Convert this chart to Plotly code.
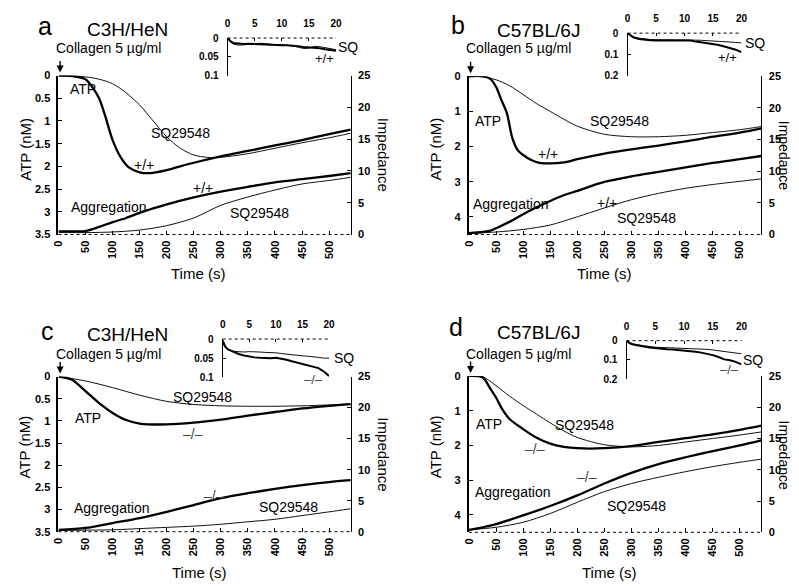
import plotly.graph_objects as go

W, H = 799, 586
FONT = "Liberation Sans, Arial, sans-serif"

# ---------------- data ----------------
# Panel a (C3H/HeN, +/+ vs SQ29548)
a_atp_wt_t = [0, 25, 50, 65, 75, 85, 100, 115, 130, 150, 165, 180, 200, 250, 300, 350, 400, 450, 500, 540]
a_atp_wt = [0, 0.01, 0.08, 0.3, 0.5, 0.84, 1.42, 1.8, 2.02, 2.13, 2.15, 2.13, 2.08, 1.92, 1.78, 1.66, 1.54, 1.42, 1.29, 1.19]
a_atp_sq_t = [0, 25, 50, 75, 100, 125, 150, 175, 200, 225, 250, 275, 300, 350, 400, 450, 500, 540]
a_atp_sq = [0, 0.01, 0.03, 0.08, 0.18, 0.38, 0.65, 1.0, 1.35, 1.6, 1.75, 1.8, 1.8, 1.72, 1.6, 1.48, 1.37, 1.27]
a_agg_wt_t = [0, 25, 50, 75, 100, 125, 150, 175, 200, 250, 300, 350, 400, 450, 500, 540]
a_agg_wt = [0.5, 0.5, 0.55, 1.2, 1.95, 2.6, 3.4, 4.1, 4.75, 5.85, 6.75, 7.5, 8.2, 8.7, 9.2, 9.65]
a_agg_sq_t = [0, 50, 100, 150, 200, 250, 300, 350, 400, 450, 500, 540]
a_agg_sq = [0.3, 0.3, 0.4, 0.7, 1.4, 2.6, 4.6, 5.9, 7.0, 7.95, 8.5, 9.0]

# Panel b (C57BL/6J, +/+ vs SQ29548)
b_atp_wt_t = [0, 25, 40, 50, 60, 70, 80, 90, 100, 115, 130, 150, 175, 200, 250, 300, 350, 400, 450, 500, 540]
b_atp_wt = [0, 0, 0.08, 0.3, 0.68, 1.05, 1.75, 2.1, 2.24, 2.38, 2.46, 2.48, 2.45, 2.36, 2.2, 2.08, 1.97, 1.85, 1.72, 1.6, 1.48]
b_atp_sq_t = [0, 25, 50, 75, 100, 125, 150, 175, 200, 250, 300, 350, 400, 450, 500, 540]
b_atp_sq = [0, 0.02, 0.1, 0.27, 0.52, 0.78, 1.0, 1.22, 1.42, 1.65, 1.72, 1.72, 1.68, 1.6, 1.52, 1.43]
b_agg_wt_t = [0, 25, 40, 50, 75, 100, 125, 150, 175, 200, 250, 300, 350, 400, 450, 500, 540]
b_agg_wt = [0.2, 0.4, 0.6, 1.0, 2.0, 3.2, 4.3, 5.3, 6.2, 6.9, 8.3, 9.2, 9.9, 10.6, 11.3, 11.9, 12.4]
b_agg_sq_t = [0, 50, 100, 150, 200, 250, 300, 350, 400, 450, 500, 540]
b_agg_sq = [0.2, 0.4, 0.8, 1.5, 2.8, 4.2, 5.5, 6.5, 7.3, 7.9, 8.4, 8.8]

# Panel c (C3H/HeN, -/- vs SQ29548)
c_atp_ko_t = [0, 25, 50, 75, 100, 125, 150, 200, 250, 300, 350, 400, 450, 500, 540]
c_atp_ko = [0, 0.07, 0.33, 0.6, 0.82, 0.98, 1.06, 1.08, 1.04, 0.97, 0.88, 0.8, 0.72, 0.66, 0.62]
c_atp_sq_t = [0, 50, 100, 150, 200, 250, 300, 350, 400, 450, 500, 540]
c_atp_sq = [0, 0.1, 0.25, 0.42, 0.56, 0.63, 0.66, 0.67, 0.67, 0.66, 0.64, 0.62]
c_agg_ko_t = [0, 50, 100, 150, 200, 250, 300, 350, 400, 450, 500, 540]
c_agg_ko = [0.3, 0.6, 1.4, 2.2, 3.2, 4.3, 5.4, 6.2, 6.9, 7.5, 8.0, 8.3]
c_agg_sq_t = [0, 50, 100, 150, 200, 250, 300, 350, 400, 450, 500, 540]
c_agg_sq = [0.2, 0.25, 0.3, 0.5, 0.7, 0.9, 1.2, 1.6, 2.0, 2.6, 3.2, 3.7]

# Panel d (C57BL/6J, -/- vs SQ29548)
d_atp_ko_t = [0, 25, 40, 50, 60, 75, 100, 125, 150, 175, 200, 250, 300, 350, 400, 450, 500, 540]
d_atp_ko = [0, 0.04, 0.38, 0.62, 0.92, 1.24, 1.53, 1.78, 1.95, 2.04, 2.08, 2.08, 2.02, 1.9, 1.79, 1.68, 1.55, 1.43]
d_atp_sq_t = [0, 25, 50, 75, 100, 125, 150, 175, 200, 250, 300, 350, 400, 450, 500, 540]
d_atp_sq = [0, 0.02, 0.28, 0.58, 0.85, 1.1, 1.35, 1.58, 1.77, 1.98, 2.04, 2.0, 1.9, 1.8, 1.7, 1.61]
d_agg_ko_t = [0, 25, 50, 100, 150, 200, 250, 300, 350, 400, 450, 500, 540]
d_agg_ko = [0.4, 0.8, 1.3, 2.7, 4.2, 5.9, 7.8, 9.5, 10.9, 12.0, 13.0, 13.9, 14.7]
d_agg_sq_t = [0, 50, 100, 150, 200, 250, 300, 350, 400, 450, 500, 540]
d_agg_sq = [0.4, 0.8, 1.6, 3.0, 4.8, 6.5, 7.8, 8.8, 9.7, 10.5, 11.2, 11.7]

# Insets (first 20 s)
inset_t = [0, 0.5, 1, 2, 3, 4, 5, 6, 7, 8, 9, 10, 11, 12, 13, 14, 15, 16, 17, 18, 19, 20]
a_in_wt = [0, 0.008, 0.013, 0.015, 0.016, 0.015, 0.016, 0.017, 0.018, 0.018, 0.019, 0.019, 0.019, 0.02, 0.022, 0.024, 0.025, 0.025, 0.027, 0.03, 0.031, 0.034]
a_in_sq = [0, 0.01, 0.016, 0.019, 0.018, 0.016, 0.014, 0.014, 0.015, 0.017, 0.018, 0.018, 0.019, 0.021, 0.024, 0.028, 0.027, 0.022, 0.023, 0.026, 0.029, 0.031]
b_in_wt = [0, 0.012, 0.02, 0.028, 0.032, 0.034, 0.035, 0.035, 0.034, 0.034, 0.033, 0.032, 0.035, 0.04, 0.044, 0.048, 0.051, 0.056, 0.063, 0.07, 0.078, 0.09]
b_in_sq = [0, 0.01, 0.017, 0.024, 0.028, 0.03, 0.031, 0.031, 0.031, 0.031, 0.031, 0.03, 0.031, 0.033, 0.034, 0.035, 0.036, 0.038, 0.04, 0.042, 0.044, 0.046]
c_in_ko = [0.004, 0.02, 0.027, 0.034, 0.039, 0.043, 0.046, 0.048, 0.049, 0.05, 0.05, 0.049, 0.051, 0.054, 0.058, 0.062, 0.066, 0.07, 0.072, 0.076, 0.085, 0.097]
c_in_sq = [0.012, 0.022, 0.028, 0.032, 0.033, 0.034, 0.033, 0.033, 0.034, 0.035, 0.035, 0.036, 0.038, 0.04, 0.042, 0.043, 0.044, 0.045, 0.046, 0.048, 0.05, 0.05]
d_in_ko = [0, 0.012, 0.018, 0.025, 0.03, 0.035, 0.039, 0.042, 0.044, 0.046, 0.048, 0.05, 0.053, 0.057, 0.062, 0.068, 0.075, 0.085, 0.097, 0.102, 0.11, 0.123]
d_in_sq = [0, 0.01, 0.016, 0.022, 0.027, 0.031, 0.034, 0.035, 0.036, 0.037, 0.038, 0.039, 0.04, 0.041, 0.043, 0.045, 0.048, 0.052, 0.057, 0.061, 0.065, 0.068]

time_ticks = [0, 50, 100, 150, 200, 250, 300, 350, 400, 450, 500]
imp_ticks = [0, 5, 10, 15, 20, 25]
inset_xticks = [0, 5, 10, 15, 20]
atp_ticks_c3h = [0, 0.5, 1, 1.5, 2, 2.5, 3, 3.5]
atp_ticks_b6 = [0, 1, 2, 3, 4]
inset_ticks_c3h = [0, 0.05, 0.1]
inset_ticks_b6 = [0, 0.1, 0.2]

# ---------------- layout helpers ----------------
def px(x):
    return x / W

def py(y):
    return 1 - y / H

panels = [
    dict(mx=(53.3, 350), my=(71, 233.3), atp_max=3.5, atp_ticks=atp_ticks_c3h,
         ix=(225, 335), iy=(32.7, 71), in_max=0.1, in_ticks=inset_ticks_c3h,
         atp=((a_atp_wt_t, a_atp_wt), (a_atp_sq_t, a_atp_sq)),
         agg=((a_agg_wt_t, a_agg_wt), (a_agg_sq_t, a_agg_sq)),
         ins=(a_in_wt, a_in_sq)),
    dict(mx=(470, 767), my=(71.7, 233.3), atp_max=4.5, atp_ticks=atp_ticks_b6,
         ix=(631, 746.7), iy=(27.7, 71), in_max=0.2, in_ticks=inset_ticks_b6,
         atp=((b_atp_wt_t, b_atp_wt), (b_atp_sq_t, b_atp_sq)),
         agg=((b_agg_wt_t, b_agg_wt), (b_agg_sq_t, b_agg_sq)),
         ins=(b_in_wt, b_in_sq)),
    dict(mx=(53.3, 350), my=(378.3, 536.7), atp_max=3.5, atp_ticks=atp_ticks_c3h,
         ix=(220, 328), iy=(340, 379), in_max=0.1, in_ticks=inset_ticks_c3h,
         atp=((c_atp_ko_t, c_atp_ko), (c_atp_sq_t, c_atp_sq)),
         agg=((c_agg_ko_t, c_agg_ko), (c_agg_sq_t, c_agg_sq)),
         ins=(c_in_ko, c_in_sq)),
    dict(mx=(470, 767), my=(377.7, 537.3), atp_max=4.5, atp_ticks=atp_ticks_b6,
         ix=(630, 746.7), iy=(341.7, 381), in_max=0.2, in_ticks=inset_ticks_b6,
         atp=((d_atp_ko_t, d_atp_ko), (d_atp_sq_t, d_atp_sq)),
         agg=((d_agg_ko_t, d_agg_ko), (d_agg_sq_t, d_agg_sq)),
         ins=(d_in_ko, d_in_sq)),
]

TICKFONT = dict(family=FONT, size=11, color="black", weight=700)
INTICKFONT = dict(family=FONT, size=10, color="black", weight=700)
THICK = 2.3
THIN = 1.0

fig = go.Figure()
layout = {}
shapes = []
annotations = []

def ann(text, x, y, size=14, angle=0, color="black", xanchor="center"):
    annotations.append(dict(text=text, x=px(x), y=py(y), xref="paper", yref="paper",
                            showarrow=False, xanchor=xanchor, yanchor="middle",
                            textangle=angle, font=dict(family=FONT, size=size, color=color)))

def nm(k):
    return "" if k == 1 else str(k)

for i, p in enumerate(panels):
    xm, xi = 2 * i + 1, 2 * i + 2
    yl, yr, yi = 3 * i + 1, 3 * i + 2, 3 * i + 3

    layout["xaxis" + nm(xm)] = dict(
        domain=[px(p["mx"][0]), px(p["mx"][1])], anchor="y" + nm(yl), range=[0, 540],
        tickvals=time_ticks, ticks="inside", ticklen=4, tickwidth=1, tickcolor="black",
        tickangle=-90, showline=False, showgrid=False, zeroline=False,
        tickfont=TICKFONT, ticklabelstandoff=3)
    layout["yaxis" + nm(yl)] = dict(
        domain=[py(p["my"][1]), py(p["my"][0])], anchor="x" + nm(xm),
        range=[p["atp_max"], 0], tickvals=p["atp_ticks"], ticks="inside", ticklen=4,
        tickcolor="black", showline=True, linewidth=2, linecolor="black",
        showgrid=False, zeroline=False, tickfont=TICKFONT, ticklabelstandoff=4)
    layout["yaxis" + nm(yr)] = dict(
        overlaying="y" + nm(yl), anchor="x" + nm(xm), side="right", range=[0, 25],
        tickvals=imp_ticks, ticks="inside", ticklen=4, tickcolor="black",
        showline=True, linewidth=1.2, linecolor="black", showgrid=False,
        zeroline=False, tickfont=TICKFONT, ticklabelstandoff=4)
    layout["xaxis" + nm(xi)] = dict(
        domain=[px(p["ix"][0]), px(p["ix"][1])], anchor="y" + nm(yi), side="top",
        range=[0, 20], tickvals=inset_xticks, ticks="inside", ticklen=3,
        tickcolor="black", showline=False, showgrid=False, zeroline=False,
        tickfont=INTICKFONT, ticklabelstandoff=8)
    layout["yaxis" + nm(yi)] = dict(
        domain=[py(p["iy"][1]), py(p["iy"][0])], anchor="x" + nm(xi),
        range=[p["in_max"], 0], tickvals=p["in_ticks"], ticks="inside", ticklen=3,
        tickcolor="black", showline=True, linewidth=1.2, linecolor="black",
        showgrid=False, zeroline=False, tickfont=INTICKFONT, ticklabelstandoff=6)

    # dotted x-axis lines
    shapes.append(dict(type="line", xref="x" + nm(xm) + " domain", yref="y" + nm(yl) + " domain",
                       x0=0, x1=1, y0=0, y1=0, line=dict(color="black", width=1, dash="dot")))
    shapes.append(dict(type="line", xref="x" + nm(xi) + " domain", yref="y" + nm(yi) + " domain",
                       x0=0, x1=1, y0=1, y1=1, line=dict(color="black", width=1, dash="dot")))

    # ATP traces
    (tw, vw), (ts, vs) = p["atp"]
    fig.add_trace(go.Scatter(x=ts, y=vs, xaxis="x" + nm(xm), yaxis="y" + nm(yl), mode="lines",
                             line=dict(color="#111", width=THIN, shape="spline", smoothing=0.8),
                             showlegend=False, hoverinfo="skip"))
    fig.add_trace(go.Scatter(x=tw, y=vw, xaxis="x" + nm(xm), yaxis="y" + nm(yl), mode="lines",
                             line=dict(color="black", width=THICK, shape="spline", smoothing=0.8),
                             showlegend=False, hoverinfo="skip"))
    # aggregation traces
    (tw, vw), (ts, vs) = p["agg"]
    fig.add_trace(go.Scatter(x=ts, y=vs, xaxis="x" + nm(xm), yaxis="y" + nm(yr), mode="lines",
                             line=dict(color="#111", width=THIN, shape="spline", smoothing=0.8),
                             showlegend=False, hoverinfo="skip"))
    fig.add_trace(go.Scatter(x=tw, y=vw, xaxis="x" + nm(xm), yaxis="y" + nm(yr), mode="lines",
                             line=dict(color="black", width=THICK, shape="spline", smoothing=0.8),
                             showlegend=False, hoverinfo="skip"))
    # inset traces
    iw, isq = p["ins"]
    fig.add_trace(go.Scatter(x=inset_t, y=isq, xaxis="x" + nm(xi), yaxis="y" + nm(yi), mode="lines",
                             line=dict(color="#111", width=THIN),
                             showlegend=False, hoverinfo="skip"))
    fig.add_trace(go.Scatter(x=inset_t, y=iw, xaxis="x" + nm(xi), yaxis="y" + nm(yi), mode="lines",
                             line=dict(color="black", width=THICK - 0.3),
                             showlegend=False, hoverinfo="skip"))

    # collagen arrow
    annotations.append(dict(text="", x=3, y=0, xref="x" + nm(xm), yref="y" + nm(yl),
                            showarrow=True, ax=0, ay=-16, arrowhead=2, arrowsize=1,
                            arrowwidth=1.4, arrowcolor="black", standoff=3))

# ---------------- text ----------------
# panel a
ann("a", 40, 20, size=25)
ann("C3H/HeN", 123, 24, size=19)
ann("Collagen 5 \u00b5g/ml", 104.5, 43)
ann("ATP", 78, 85)
ann("SQ29548", 177, 130)
ann("+/+", 140, 162)
ann("Aggregation", 105, 205)
ann("+/+", 200, 186)
ann("SQ29548", 257, 211)
ann("ATP (nM)", 19, 146, size=15, angle=-90)
ann("Impedance", 383, 152, size=15, angle=90)
ann("Time (s)", 195, 273, size=15)
ann("SQ", 347, 42)
ann("+/+", 323, 54, size=13)

# panel b
ann("b", 459, 19, size=25)
ann("C57BL/6J", 541, 25, size=19)
ann("Collagen 5 \u00b5g/ml", 520.5, 43)
ann("ATP", 489, 117)
ann("SQ29548", 623, 117)
ann("+/+", 550, 151)
ann("Aggregation", 513, 202)
ann("+/+", 610, 201)
ann("SQ29548", 650, 216)
ann("ATP (nM)", 436, 146, size=15, angle=-90)
ann("Impedance", 790, 152, size=14, angle=90)
ann("Time (s)", 607, 273, size=15)
ann("SQ", 760, 38)
ann("+/+", 733, 53, size=13)

# panel c
ann("c", 42, 332, size=25)
ann("C3H/HeN", 123, 335, size=19)
ann("Collagen 5 \u00b5g/ml", 104, 355)
ann("SQ29548", 200, 399)
ann("ATP", 83, 421)
ann("\u2013/\u2013", 190, 437, color="#444")
ann("Aggregation", 108, 512)
ann("\u2013/\u2013", 211, 500, color="#444")
ann("SQ29548", 287, 511)
ann("ATP (nM)", 19, 450, size=15, angle=-90)
ann("Impedance", 383, 458, size=15, angle=90)
ann("Time (s)", 196, 578, size=15)
ann("SQ", 343, 359)
ann("\u2013/\u2013", 312, 381, size=13, color="#444")

# panel d
ann("d", 457, 328, size=25)
ann("C57BL/6J", 541, 333, size=19)
ann("Collagen 5 \u00b5g/ml", 520.5, 355)
ann("ATP", 490, 427)
ann("SQ29548", 587, 428)
ann("\u2013/\u2013", 537, 452, color="#444")
ann("Aggregation", 515, 496)
ann("\u2013/\u2013", 590, 481, color="#444")
ann("SQ29548", 640, 510)
ann("ATP (nM)", 436, 450, size=15, angle=-90)
ann("Impedance", 790, 458, size=14, angle=90)
ann("Time (s)", 612, 578, size=15)
ann("SQ", 758, 361)
ann("\u2013/\u2013", 735, 371, size=13, color="#444")

fig.update_layout(
    width=W, height=H, margin=dict(l=0, r=0, t=0, b=0),
    paper_bgcolor="white", plot_bgcolor="rgba(0,0,0,0)",
    font=dict(family=FONT, color="black"),
    showlegend=False, shapes=shapes, annotations=annotations,
    **layout)

fig.write_html("out.html")
